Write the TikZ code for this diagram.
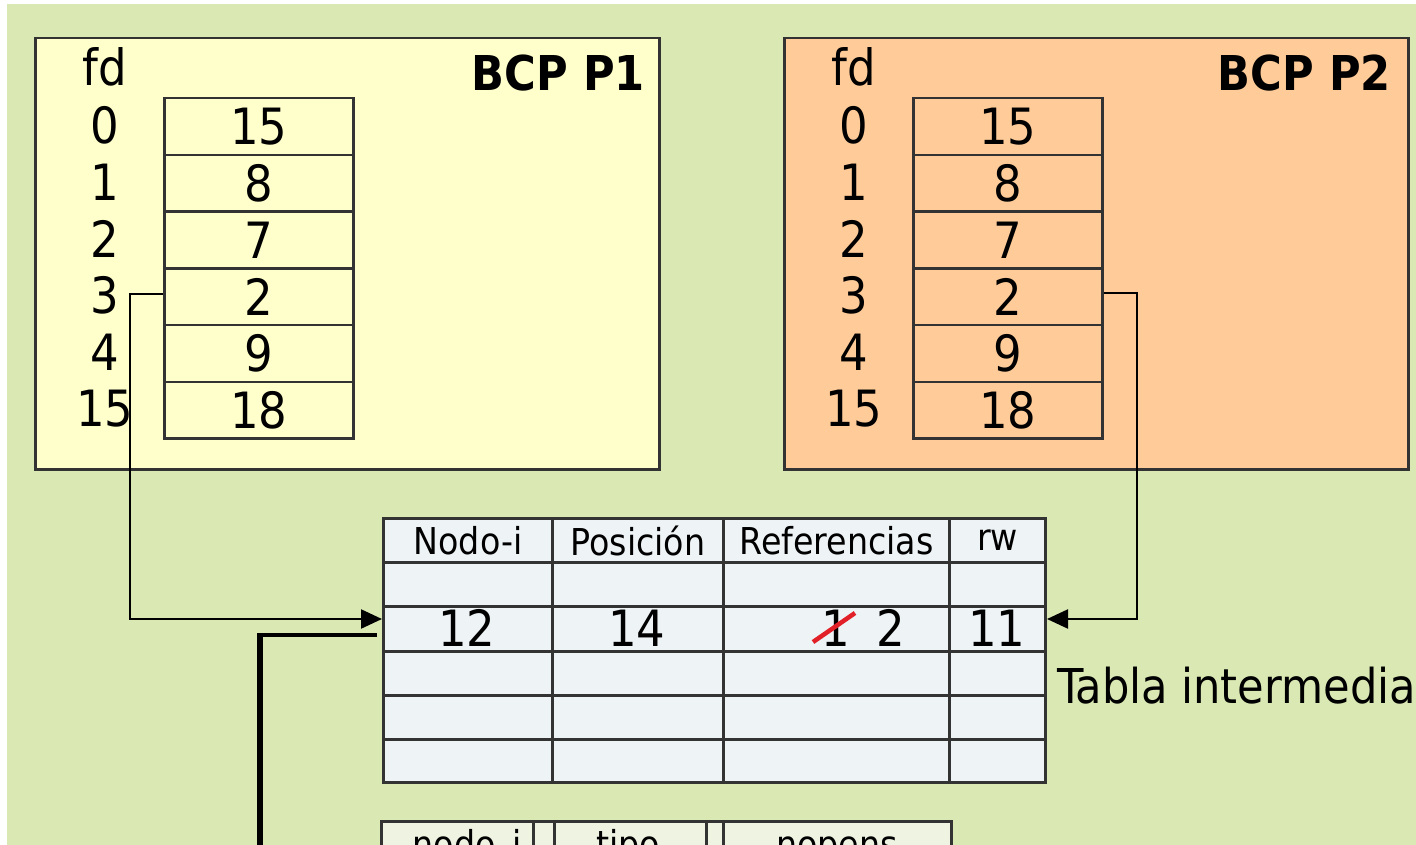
\documentclass[tikz,border=0pt]{standalone}
\usepackage{fontspec}
\setmainfont{DejaVu Sans Condensed}
\usetikzlibrary{arrows.meta}
\definecolor{bggreen}{RGB}{218,233,180}
\definecolor{pone}{RGB}{255,255,204}
\definecolor{ptwo}{RGB}{255,204,153}
\definecolor{tabfill}{RGB}{238,243,246}
\definecolor{lowfill}{RGB}{238,243,226}
\definecolor{linegray}{RGB}{51,51,51}
\definecolor{strike}{RGB}{226,32,40}
\tikzset{
  big/.style={font=\fontsize{50}{60}\selectfont},
  head/.style={font=\fontsize{37}{44}\selectfont},
  bcpbox/.style={draw=linegray, line width=2.5pt, anchor=north west, inner sep=0pt, minimum width=624pt, minimum height=431pt},
  fdcell/.style={draw=linegray, line width=2.5pt, anchor=north west, inner sep=0pt, minimum width=189pt, minimum height=56.7pt, big},
  lbl/.style={inner sep=0pt, big},
  tcell/.style={draw=linegray, line width=3pt, fill=tabfill, anchor=north west, inner sep=0pt},
  lcell/.style={draw=linegray, line width=2.5pt, fill=lowfill, anchor=north west, inner sep=0pt, minimum height=60pt},
  conn/.style={line width=2.2pt, black, -{Triangle[length=21pt,width=19pt]}},
}
\begin{document}
\begin{tikzpicture}[x=1pt,y=-1pt]
\useasboundingbox (0,0) rectangle (1416,845);
\clip (0,0) rectangle (1416,845);
\fill[bggreen] (7,4) rectangle (1416,845);

% BCP boxes
\node[bcpbox, fill=pone] (P1) at (34,37) {};
\node[bcpbox, fill=ptwo] (P2) at (783,37) {};
\node[font=\fontsize{48}{56}\selectfont\bfseries, anchor=east, inner sep=0pt] (T1) at (645,73) {BCP P1};
\node[font=\fontsize{48}{56}\selectfont\bfseries, anchor=east, inner sep=0pt] (T2) at (1391,73) {BCP P2};
\node[lbl] (fd1) at (105,67) {fd};
\node[lbl] (fd2) at (854,67) {fd};

\foreach \v/\l [count=\i from 0] in {15/0,8/1,7/2,2/3,9/4,18/15} {
  \node[fdcell, fill=pone] (a\i) at (163,{97+56.7*\i}) {\v};
  \node[fdcell, fill=ptwo] (b\i) at (912,{97+56.7*\i}) {\v};
  \node[lbl] (la\i) at (105,{125.5+56.7*\i}) {\l};
  \node[lbl] (lb\i) at (854,{125.5+56.7*\i}) {\l};
}

% intermediate table
\foreach \x/\w [count=\c] in {382/169,551/171,722/226,948/96} {
  \foreach \y/\h [count=\r] in {517/44,561/44,605/45,650/44,694/44,738/43} {
    \node[tcell, minimum width=\w pt, minimum height=\h pt] (m\r\c) at (\x,\y) {};
  }
}
\node[head] (h1) at (m11.center) {Nodo-i};
\node[head] (h2) at (m12.center) {Posición};
\node[head] (h3) at (m13.center) {Referencias};
\node[head] (h4) at (m14.center) {rw};
\node[big, inner sep=0pt] (v1) at (467,628) {12};
\node[big, inner sep=0pt] (v2) at (637,628) {14};
\node[big, inner sep=0pt] (v3a) at (836,628) {1};
\node[big, inner sep=0pt] (v3b) at (891,628) {2};
\node[big, inner sep=0pt] (v4) at (997,628) {11};
\draw[strike, line width=4.5pt] (813,642) -- (855,613);
\node[font=\fontsize{48}{56}\selectfont, anchor=west, inner sep=0pt] (tab) at (1057,686) {Tabla intermedia};

% lower table (cut off by the picture edge, as in the reference)
\node[lcell, minimum width=152pt] (n1) at (380,820) {};
\node[lcell, minimum width=21pt] (n2) at (532,820) {};
\node[lcell, minimum width=152pt] (n3) at (553,820) {};
\node[lcell, minimum width=17pt] (n4) at (705,820) {};
\node[lcell, minimum width=228pt] (n5) at (722,820) {};
\node[head, anchor=base, inner sep=0pt] (k1) at (467,857) {nodo\_i};
\node[head, anchor=base, inner sep=0pt] (k2) at (628,857) {tipo};
\node[head, anchor=base, inner sep=0pt] (k3) at (837,857) {nopens};

% connectors
\coordinate (l1) at (130,619);
\coordinate (in1) at (m31.west |- l1);
\draw[conn] ([yshift=3pt]a3.west) -| (l1) -- (in1);
\coordinate (r1) at (1137,619);
\coordinate (in2) at (m34.east |- r1);
\draw[conn] ([yshift=4pt]b3.east) -| (r1) -- (in2);
\coordinate (t0) at (377,635);
\coordinate (t1) at (260,635);
\coordinate (t2) at (260,860);
\draw[line width=4pt] (t0) -- ([xshift=-3pt]t1);
\draw[line width=6pt] ([yshift=2pt]t1) -- (t2);
\end{tikzpicture}
\end{document}
